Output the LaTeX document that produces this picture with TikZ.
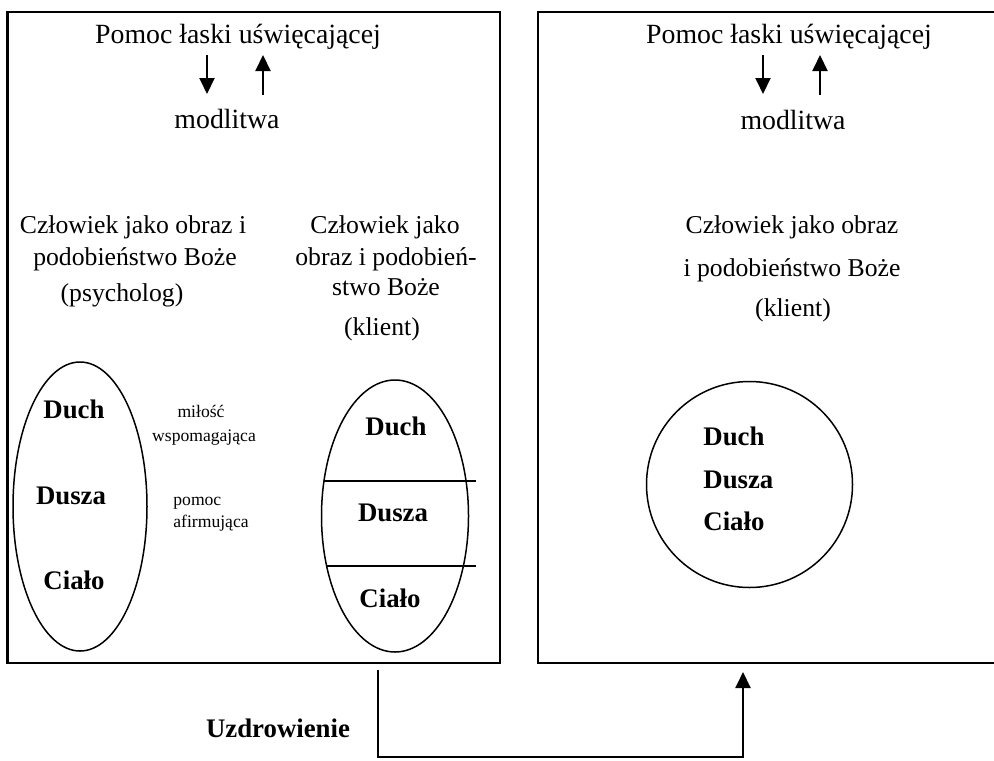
\documentclass[tikz,border=0pt]{standalone}
\usepackage{fontspec}
\setmainfont{Liberation Serif}
\usetikzlibrary{arrows.meta}
\begin{document}
\begin{tikzpicture}[x=0.5pt,y=-0.5pt,
  frame/.style={draw, line width=1.25pt},
  shapeline/.style={draw, line width=0.75pt},
  conn/.style={draw, line width=1pt},
  tipped/.style={-{Triangle[width=7.5pt,length=8pt]}},
  big/.style={font=\fontsize{13.9}{16}\selectfont, inner sep=0pt, anchor=base},
  mid/.style={font=\fontsize{12.85}{15}\selectfont, inner sep=0pt, anchor=base},
  bold/.style={font=\fontsize{13.4}{16}\selectfont\bfseries, inner sep=0pt, anchor=base},
  small/.style={font=\fontsize{8.8}{10}\selectfont, inner sep=0pt, anchor=base}]
\useasboundingbox (0,0) rectangle (994,760);
\clip (0,0) rectangle (994,760);
% frames
\draw[frame] (7.5,12) rectangle (500,663);
\draw[frame] (538,12) rectangle (1010,663);
% ---------- left frame ----------
\node[big] (lp) at (238,43) {Pomoc łaski uświęcającej};
\node[big] (lm) at (227,128) {modlitwa};
\coordinate (la1) at (207,55);
\coordinate (la2) at (207,94);
\coordinate (lb1) at (263,95);
\coordinate (lb2) at (263,55);
\draw[conn,tipped] (la1) -- (la2);
\draw[conn,tipped] (lb1) -- (lb2);
\node[mid] (ps1) at (133,233) {Człowiek jako obraz i};
\node[mid] (ps2) at (135,265) {podobieństwo Boże};
\node[mid] (ps3) at (122,301) {(psycholog)};
\node[mid] (kl1) at (385,233) {Człowiek jako};
\node[mid] (kl2) at (386,265) {obraz i podobień-};
\node[mid] (kl3) at (386,295) {stwo Boże};
\node[mid] (kl4) at (382,335) {(klient)};
% psycholog ellipse
\draw[shapeline] (80,506.5) ellipse [x radius=67, y radius=144.5];
\node[bold] (pd1) at (74,418) {Duch};
\node[bold] (pd2) at (71,504) {Dusza};
\node[bold] (pd3) at (74,589) {Ciało};
\node[small] (s1) at (201,417) {miłość};
\node[small] (s2) at (204,441) {wspomagająca};
\node[small,anchor=base west] (s3) at (173,505) {pomoc};
\node[small,anchor=base west] (s4) at (173,527) {afirmująca};
% klient ellipse
\draw[shapeline] (395,516) ellipse [x radius=73.5, y radius=136];
\draw[shapeline] (324,481) -- (476,481);
\draw[shapeline] (326,566) -- (476,566);
\node[bold] (kd1) at (396,435) {Duch};
\node[bold] (kd2) at (393,521) {Dusza};
\node[bold] (kd3) at (390,607) {Ciało};
% ---------- right frame ----------
\node[big] (rp) at (789,43) {Pomoc łaski uświęcającej};
\node[big] (rm) at (793,129) {modlitwa};
\coordinate (ra1) at (763,55);
\coordinate (ra2) at (763,94);
\coordinate (rb1) at (820,95);
\coordinate (rb2) at (820,55);
\draw[conn,tipped] (ra1) -- (ra2);
\draw[conn,tipped] (rb1) -- (rb2);
\node[mid] (r1) at (792,233) {Człowiek jako obraz};
\node[mid] (r2) at (792,276) {i podobieństwo Boże};
\node[mid] (r3) at (793,316) {(klient)};
\draw[shapeline] (749.5,484.5) circle [radius=103];
\node[bold,anchor=base west] (rd1) at (703,445) {Duch};
\node[bold,anchor=base west] (rd2) at (703,488) {Dusza};
\node[bold,anchor=base west] (rd3) at (703,530) {Ciało};
% ---------- healing connector ----------
\node[bold] (uz) at (278,737) {Uzdrowienie};
\coordinate (cs) at (378,670);
\coordinate (cb1) at (378,757);
\coordinate (cb2) at (743,757);
\coordinate (ce) at (743,672);
\draw[conn,tipped] (cs) -- (cb1) -- (cb2) -- (ce);
\end{tikzpicture}
\end{document}
